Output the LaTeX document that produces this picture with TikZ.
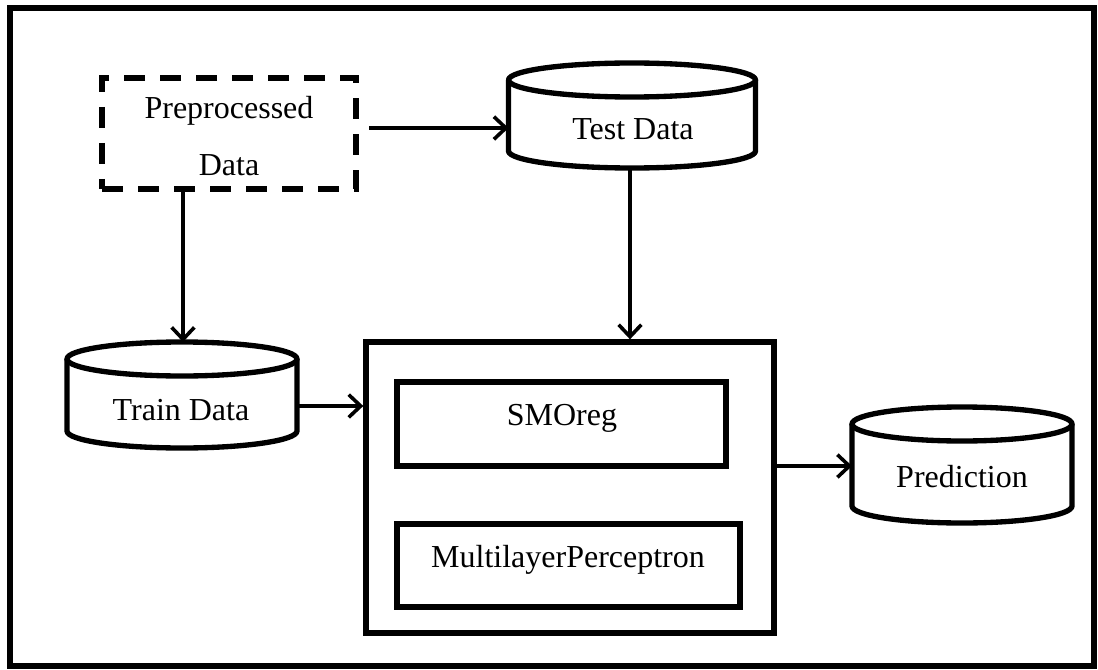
\documentclass[tikz,border=0pt]{standalone}
\usepackage{fontspec}
\setmainfont{Liberation Serif}
\usetikzlibrary{arrows.meta,calc}
\tikzset{
  shp/.style={line width=4pt, line join=round},
  hold/.style={draw=none, inner sep=0pt, outer sep=0pt},
  lbl/.style={anchor=base, inner sep=0pt, font=\fontsize{24}{28}\selectfont},
  arr/.style={line width=2.7pt, -{Straight Barb[length=9pt,width=17pt]}},
  dashbox/.style={draw, line width=4pt, dash pattern=on 16pt off 11pt, inner sep=0pt},
  sbox/.style={draw, line width=4pt, inner sep=0pt},
}
% cylinder outline: cx, top, bottom, half width (all px)
\newcommand\drawcyl[4]{%
  \draw[shp] (#1,#2+17) ellipse [x radius=#4*0.75pt, y radius=12.75pt];
  \draw[shp] (#1-#4,#2+17) -- (#1-#4,#3-17)
     arc [start angle=180, end angle=360, x radius=#4*0.75pt, y radius=12.75pt]
     -- (#1+#4,#2+17);
}
\begin{document}
\begin{tikzpicture}[x=0.75pt,y=-0.75pt]
\useasboundingbox (0,0) rectangle (1098,670);
\draw[line width=4pt] (10,8) rectangle (1094,666);

% preprocessed data
\node[dashbox, minimum width=254*0.75pt, minimum height=111*0.75pt] (pre) at (229,133.5) {};
\node[lbl] (pretxt1) at (229,119) {Preprocessed};
\node[lbl] (pretxt2) at (229,176) {Data};

% cylinders
\node[hold, minimum width=247*0.75pt, minimum height=105*0.75pt] (test) at (632,115.5) {};
\drawcyl{632}{63}{168}{123.5}
\node[lbl] (testtxt) at (633,140) {Test Data};

\node[hold, minimum width=230*0.75pt, minimum height=106*0.75pt] (train) at (182,395) {};
\drawcyl{182}{342}{448}{115}
\node[lbl] (traintxt) at (181,420) {Train Data};

\node[hold, minimum width=220*0.75pt, minimum height=116*0.75pt] (pred) at (962,465) {};
\drawcyl{962}{407}{523}{110}
\node[lbl] (predtxt) at (962,487) {Prediction};

% model box
\node[sbox, minimum width=408*0.75pt, minimum height=291*0.75pt] (model) at (570,487.5) {};
\node[sbox, minimum width=329*0.75pt, minimum height=84*0.75pt] (smo) at (561.5,424) {};
\node[lbl] (smotxt) at (562,425) {SMOreg};
\node[sbox, minimum width=343*0.75pt, minimum height=83*0.75pt] (mlp) at (568.5,565.5) {};
\node[lbl] (mlptxt) at (568,567) {MultilayerPerceptron};

% connectors
\coordinate (c1) at (0,128);
\draw[arr, shorten <=8pt] (pre.east |- c1) -- (test.west |- c1);
\coordinate (c2) at (183,0);
\draw[arr] (pre.south -| c2) -- (train.north -| c2);
\coordinate (c3) at (630,0);
\draw[arr] (test.south -| c3) -- (model.north -| c3);
\coordinate (c4) at (0,406);
\draw[arr] (train.east |- c4) -- (model.west |- c4);
\coordinate (c5) at (0,466);
\draw[arr] (model.east |- c5) -- (pred.west |- c5);
\end{tikzpicture}
\end{document}
